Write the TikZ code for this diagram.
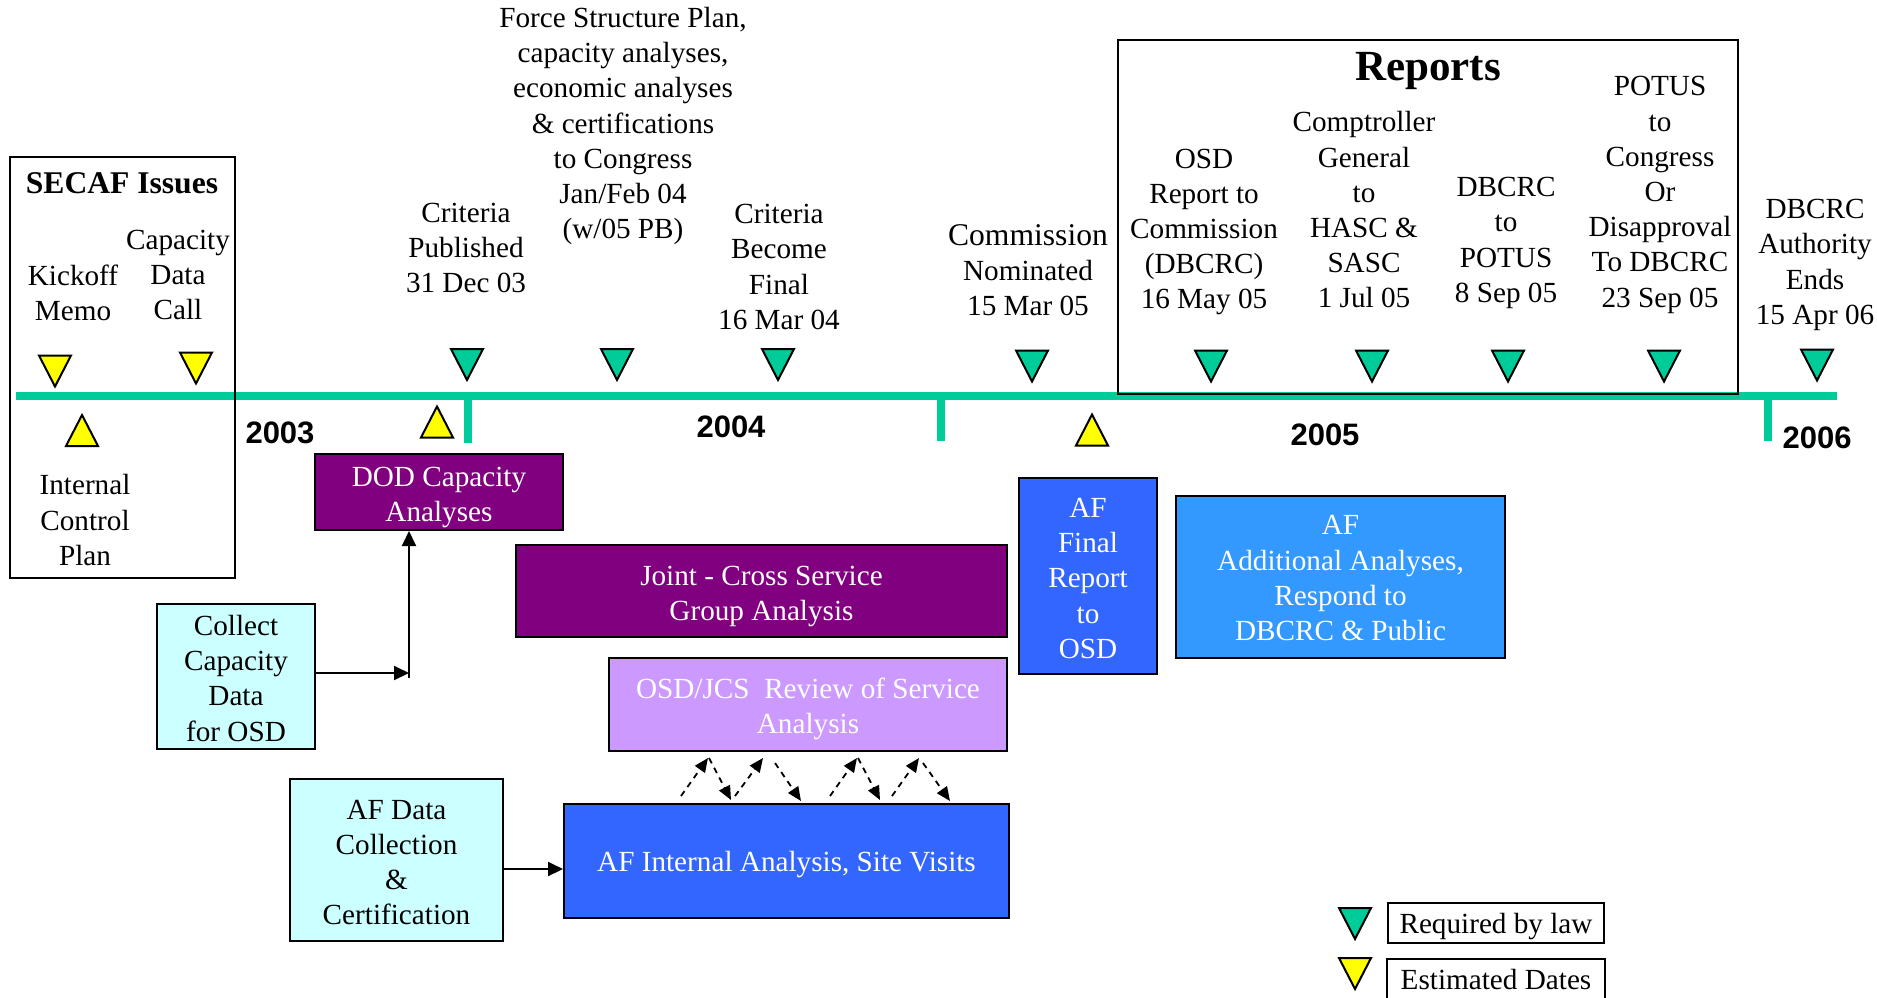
\documentclass[tikz,border=0pt]{standalone}
\usepackage{fontspec}
\setmainfont{Liberation Serif}
\newfontfamily\yearfont{Liberation Sans}
\usetikzlibrary{arrows.meta,calc}
\definecolor{tlgreen}{HTML}{00CC99}
\definecolor{triyel}{HTML}{FFFF00}
\definecolor{dpurple}{HTML}{800080}
\definecolor{lpurple}{HTML}{CC99FF}
\definecolor{afblue}{HTML}{3366FF}
\definecolor{afsky}{HTML}{3399FF}
\definecolor{lcyan}{HTML}{CCFFFF}
\newcommand{\boxtext}[2][2.4pt]{\raisebox{-#1}[\height][\depth]{\begin{tabular}{@{}c@{}}#2\end{tabular}}}
\tikzset{
  txt/.style={align=center, inner sep=0pt, font=\fontsize{14.6}{17.6}\selectfont},
  yearlbl/.style={inner sep=0pt, font=\yearfont\bfseries\fontsize{15.5}{18}\selectfont},
  timeline/.style={line width=4pt, color=tlgreen},
  frame/.style={draw=black, line width=1pt},
  procbox/.style={draw=black, line width=1pt, inner sep=0pt,
     font=\fontsize{14.6}{17.6}\selectfont},
  tri/.style={draw=black, line width=1pt, line join=miter},
  pics/dtri/.style={code={\path[tri,fill=#1] (-16,-15.5) -- (16,-15.5) -- (0,15.5) -- cycle;}},
  pics/utri/.style={code={\path[tri,fill=#1] (-16,15.5) -- (16,15.5) -- (0,-15.5) -- cycle;}},
  solidarrow/.style={line width=1pt, -{Triangle[length=7.5pt,width=7pt]}},
  dasharrow/.style={line width=0.9pt, dash pattern=on 3pt off 2.5pt, -{Triangle[length=7pt,width=6pt]}},
}
\begin{document}
\begin{tikzpicture}[x=0.5pt,y=-0.5pt]
\useasboundingbox (0,0) rectangle (1877,997);

% timeline
\draw[timeline] (16,396) -- (1837,396);
\draw[timeline] (468,396) -- (468,443);
\draw[timeline] (941,396) -- (941,441);
\draw[timeline] (1768,396) -- (1768,441);

% year labels
\node[yearlbl] (y2003) at (280,433) {2003};
\node[yearlbl] (y2004) at (731,427) {2004};
\node[yearlbl] (y2005) at (1325,435) {2005};
\node[yearlbl] (y2006) at (1817,438) {2006};

% frames
\draw[frame] (10,157) rectangle (235,578);
\draw[frame] (1118,40) rectangle (1738,394);
\node[inner sep=0pt, font=\bfseries\fontsize{15.8}{19}\selectfont] (secaf) at (122,183) {SECAF Issues};
\node[inner sep=0pt, font=\bfseries\fontsize{21.5}{25}\selectfont] (reports) at (1428,71) {Reports};

% milestone texts
\node[txt] (kick) at (73,293) {Kickoff\\Memo};
\node[txt] (capcall) at (178,275) {Capacity\\Data\\Call};
\node[txt] (icp) at (85,520) {Internal\\Control\\Plan};
\node[txt] (critpub) at (466,248) {Criteria\\Published\\31 Dec 03};
\node[txt] (fsp) at (623,126) {Force Structure Plan,\\capacity analyses,\\economic analyses\\\& certifications\\to Congress\\Jan/Feb 04\\(w/05 PB)};
\node[txt] (critfin) at (779,267) {Criteria\\Become\\Final\\16 Mar 04};
\node[txt] (comm) at (1028,270) {{\fontsize{15.8}{17.6}\selectfont Commission}\\Nominated\\15 Mar 05};
\node[txt] (osdrep) at (1204,232) {OSD\\Report to\\Commission\\(DBCRC)\\16 May 05};
\node[txt] (comptr) at (1364,210) {Comptroller\\General\\to\\HASC \&\\SASC\\1 Jul 05};
\node[txt] (dbpot) at (1506,243) {DBCRC\\to\\POTUS\\8 Sep 05};
\node[txt] (potus) at (1660,195) {POTUS\\to\\Congress\\Or\\Disapproval\\To DBCRC\\23 Sep 05};
\node[txt] (auth) at (1815,265) {DBCRC\\Authority\\Ends\\15 Apr 06};

% triangles
\pic at (55,371) {dtri=triyel};
\pic at (196,368) {dtri=triyel};
\pic at (467,364.5) {dtri=tlgreen};
\pic at (617,364.5) {dtri=tlgreen};
\pic at (778,364.5) {dtri=tlgreen};
\pic at (1032,366) {dtri=tlgreen};
\pic at (1211,366) {dtri=tlgreen};
\pic at (1372,366) {dtri=tlgreen};
\pic at (1508,366) {dtri=tlgreen};
\pic at (1664,366) {dtri=tlgreen};
\pic at (1817,365) {dtri=tlgreen};
\pic at (82,430.5) {utri=triyel};
\pic at (437,422) {utri=triyel};
\pic at (1092,430) {utri=triyel};

% process boxes
\node[procbox, fill=dpurple, text=white, minimum width=124pt, minimum height=38pt] (dod) at (439,492) {\boxtext{DOD Capacity\\Analyses}};
\node[procbox, fill=dpurple, text=white, minimum width=245.5pt, minimum height=46pt] (jcsg) at (761.5,591) {\boxtext{Joint - Cross Service\\Group Analysis}};
\node[procbox, fill=lpurple, text=white, minimum width=199pt, minimum height=46.5pt] (rev) at (808,704.5) {\boxtext{OSD/JCS\ \ Review of Service\\Analysis}};
\node[procbox, fill=afblue, text=white, minimum width=222.5pt, minimum height=57pt] (afint) at (786.5,861) {\boxtext[1.8pt]{AF Internal Analysis, Site Visits}};
\node[procbox, fill=lcyan, minimum width=79pt, minimum height=72.5pt] (collect) at (236,676.5) {\boxtext{Collect\\Capacity\\Data\\for OSD}};
\node[procbox, fill=lcyan, minimum width=106.5pt, minimum height=81pt] (afdata) at (396.5,860) {\boxtext{AF Data\\Collection\\\&\\Certification}};
\node[procbox, fill=afblue, text=white, minimum width=69pt, minimum height=98pt] (affinal) at (1088,576) {\boxtext{AF\\Final\\Report\\to\\OSD}};
\node[procbox, fill=afsky, text=white, minimum width=164.5pt, minimum height=81pt] (afadd) at (1340.5,577) {\boxtext[1.8pt]{AF\\Additional Analyses,\\Respond to\\DBCRC \& Public}};

% solid arrows
\coordinate (cj) at (409,673);
\coordinate (cv) at (409,678);
\draw[solidarrow] (collect.east |- cj) -- (cj);
\draw[solidarrow] (cv) -- (dod.south -| cv);
\draw[solidarrow] (afdata.east |- 0,869) -- (afint.west |- 0,869);

% dashed arrows
\coordinate (u1a) at (681,796); \coordinate (u1b) at (708,758);
\coordinate (d1a) at (709,758); \coordinate (d1b) at (731,800);
\coordinate (u2a) at (735,796); \coordinate (u2b) at (763,758);
\coordinate (d2a) at (775,763); \coordinate (d2b) at (801,801);
\coordinate (u3a) at (830,796); \coordinate (u3b) at (857,758);
\coordinate (d3a) at (858,758); \coordinate (d3b) at (880,800);
\coordinate (u4a) at (892,796); \coordinate (u4b) at (919,758);
\coordinate (d4a) at (923,763); \coordinate (d4b) at (950,801);
\foreach \p in {1,2,3,4}{
  \draw[dasharrow] (u\p a) -- (u\p b);
  \draw[dasharrow] (d\p a) -- (d\p b);
}

% legend
\pic at (1355,923.5) {dtri=tlgreen};
\pic at (1355,973.5) {dtri=triyel};
\node[procbox, line width=0.8pt, minimum width=108pt, minimum height=20pt] (leglaw) at (1496,923) {\boxtext[1.8pt]{Required by law}};
\node[procbox, line width=0.8pt, minimum width=109pt, minimum height=20pt] (legest) at (1496,979) {\boxtext[1.8pt]{Estimated Dates}};
\end{tikzpicture}
\end{document}
